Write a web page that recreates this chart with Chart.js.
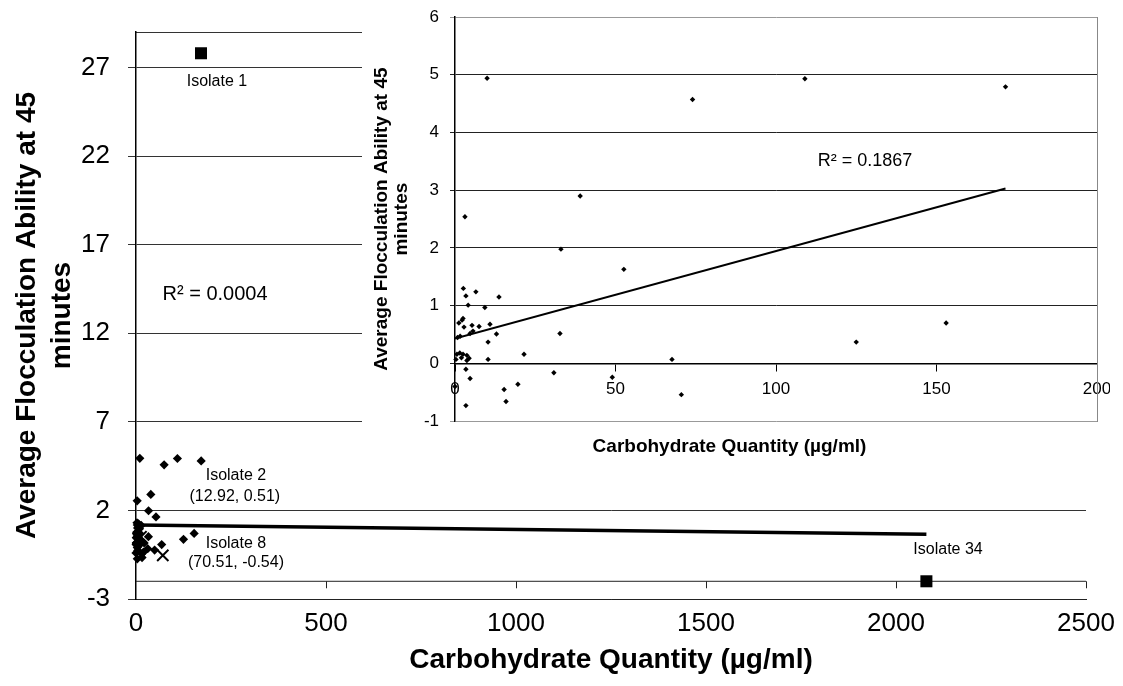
<!DOCTYPE html>
<html>
<head>
<meta charset="utf-8">
<script src="https://cdn.jsdelivr.net/npm/chart.js@4.4.1/dist/chart.umd.min.js"></script>
<style>
  html, body { margin: 0; padding: 0; background: #fff; }
  #wrap { position: relative; width: 1123px; height: 686px; overflow: hidden; }
  #main { position: absolute; left: 0; top: 0; }
  #inset { position: absolute; left: 362px; top: 0; }
</style>
</head>
<body>
<div id="wrap">
  <canvas id="main" width="1123" height="686"></canvas>
  <canvas id="inset" width="748" height="470"></canvas>
</div>
<script>
// isolates under 200 ug/ml
const carb = [10, 74, 109, 171.5, 39, 3.1, 33, 52.6,
  2.6, 3.4, 6.5, 13.7, 4.1, 9.3, 1.2, 2.2, 2.5, 2.8, 5.3, 7.5, 10.9,
  4.7, 5.6, 32.7, 10.3, 1.6, 0.8, 21.5, 0.6, 1.5, 2.5, 3.7, 2.0,
  0.3, 3.7, 4.4, 10.3, 67.6, 3.4, 4.7, 30.8, 49, 0, 15.3, 19.6, 15.9, 3.4,
  125, 153];
const floc = [4.94, 4.57, 4.93, 4.79, 2.9, 2.54, 1.98, 1.63,
  1.30, 1.17, 1.24, 1.15, 1.01, 0.97, 0.70, 0.75, 0.78, 0.63, 0.66, 0.64, 0.68,
  0.52, 0.56, 0.52, 0.37, 0.47, 0.45, 0.16, 0.16, 0.18, 0.16, 0.14, 0.10,
  0.07, 0.05, 0.09, 0.07, 0.07, -0.10, -0.26, -0.16, -0.24, -0.40, -0.45, -0.36, -0.66, -0.73,
  0.37, 0.70];

// isolates 2 and 8 (cross markers)
const markedX = [12.92, 70.51];
const markedY = [0.51, -0.54];

// isolates 1 and 34 (square markers)
const outlierX = [171, 2080];
const outlierY = [27.8, -2.0];

// trend lines
const mainTrendX = [0, 2080];
const mainTrendY = [1.18, 0.65];
const insetTrendX = [0, 171.5];
const insetTrendY = [0.43, 3.03];

const mainXTicks = [0, 500, 1000, 1500, 2000, 2500];
const mainYTicks = [-3, 2, 7, 12, 17, 22, 27];
const insetXTicks = [0, 50, 100, 150, 200];
const insetYTicks = [-1, 0, 1, 2, 3, 4, 5, 6];
const baseLevel = -2;

Chart.defaults.font.family = 'Arial, "Liberation Sans", sans-serif';
Chart.defaults.color = '#000';

const pts = (xs, ys) => xs.map((x, i) => ({ x: x, y: ys[i] }));
const plain = v => String(v);

// text labels placed in data units
const mainNotes = [
  { text: 'Isolate 1', x: 213, y: 26.2, size: 16 },
  { text: 'Isolate 2', x: 263, y: 3.94, size: 16 },
  { text: '(12.92, 0.51)', x: 260, y: 2.76, size: 16 },
  { text: 'Isolate 8', x: 263, y: 0.10, size: 16 },
  { text: '(70.51, -0.54)', x: 263, y: -0.97, size: 16 },
  { text: 'Isolate 34', x: 2137, y: -0.23, size: 16 },
  { text: 'R\u00B2 = 0.0004', x: 208, y: 14.16, size: 20 }
];
const insetNotes = [
  { text: 'R\u00B2 = 0.1867', x: 127.7, y: 3.51, size: 18 }
];

const notesPlugin = {
  id: 'notes',
  afterDatasetsDraw(chart, args, opts) {
    const ctx = chart.ctx;
    const sx = chart.scales.x, sy = chart.scales.y;
    ctx.save();
    ctx.fillStyle = '#000';
    ctx.textAlign = 'center';
    ctx.textBaseline = 'middle';
    opts.items.forEach(n => {
      ctx.font = n.size + 'px Arial, "Liberation Sans", sans-serif';
      ctx.fillText(n.text, sx.getPixelForValue(n.x), sy.getPixelForValue(n.y));
    });
    // little tick marks hanging under the -2 line
    if (opts.baseTicks) {
      const y0 = sy.getPixelForValue(baseLevel);
      ctx.strokeStyle = '#222';
      ctx.lineWidth = 1;
      mainXTicks.slice(1).forEach(v => {
        const px = Math.round(sx.getPixelForValue(v)) + 0.5;
        ctx.beginPath();
        ctx.moveTo(px, y0);
        ctx.lineTo(px, y0 + 7);
        ctx.stroke();
      });
    }
    ctx.restore();
  }
};

const whiteBg = {
  id: 'whiteBg',
  beforeDraw(chart) {
    const ctx = chart.ctx;
    ctx.save();
    ctx.fillStyle = '#fff';
    ctx.fillRect(0, 0, chart.width, chart.height);
    ctx.restore();
  }
};

const noSidePad = s => { s.paddingLeft = 0; s.paddingRight = 0; };
const noEndPad = s => { s.paddingTop = 0; s.paddingBottom = 0; };

new Chart(document.getElementById('main'), {
  type: 'scatter',
  data: {
    datasets: [
      {
        data: pts(carb, floc),
        pointStyle: 'rectRot', pointRadius: 4.6,
        backgroundColor: '#000', borderColor: '#000', borderWidth: 0, clip: false
      },
      {
        data: pts(markedX, markedY),
        pointStyle: 'crossRot', pointRadius: 8,
        borderColor: '#000', borderWidth: 2, clip: false
      },
      {
        data: pts(outlierX, outlierY),
        pointStyle: 'rect', pointRadius: 8.5,
        backgroundColor: '#000', borderColor: '#000', borderWidth: 0, clip: false
      },
      {
        type: 'line', data: pts(mainTrendX, mainTrendY),
        borderColor: '#000', borderWidth: 3.5, pointRadius: 0, showLine: true
      },
      {
        type: 'line', data: pts([mainXTicks[0], mainXTicks[mainXTicks.length - 1]], [baseLevel, baseLevel]),
        borderColor: '#222', borderWidth: 1, pointRadius: 0, showLine: true
      }
    ]
  },
  plugins: [notesPlugin],
  options: {
    responsive: false,
    animation: false,
    events: [],
    layout: { padding: { top: 32, right: 37, left: 0, bottom: 0 } },
    plugins: {
      legend: { display: false },
      tooltip: { enabled: false },
      notes: { items: mainNotes, baseTicks: true }
    },
    scales: {
      x: {
        type: 'linear', position: 'bottom', min: 0, max: 2500,
        afterBuildTicks: s => { s.ticks = mainXTicks.map(v => ({ value: v })); },
        afterFit: s => { s.height = 87; noSidePad(s); },
        grid: { display: false, drawTicks: false },
        border: { display: true, color: '#222', width: 1 },
        ticks: { font: { size: 26 }, color: '#000', padding: 9, maxRotation: 0, callback: plain },
        title: {
          display: true, text: 'Carbohydrate Quantity (\u00B5g/ml)',
          font: { size: 28, weight: 'bold' }, color: '#000', padding: { top: 0, bottom: 9 }
        }
      },
      xTop: {
        type: 'linear', axis: 'x', position: 'top', min: 0, max: 2500,
        afterFit: s => { s.height = 0; noSidePad(s); },
        grid: { display: false, drawTicks: false },
        ticks: { display: false },
        border: { display: true, color: '#333', width: 1 }
      },
      y: {
        type: 'linear', min: -3, max: 29,
        afterBuildTicks: s => { s.ticks = mainYTicks.map(v => ({ value: v })); },
        afterFit: s => { s.width = 136; noEndPad(s); },
        grid: { color: '#333', lineWidth: 1, tickLength: 8 },
        border: { color: '#000', width: 1.5 },
        ticks: { font: { size: 26 }, color: '#000', padding: 18, callback: plain },
        title: {
          display: true, text: ['Average Flocculation Ability at 45', 'minutes'],
          font: { size: 28, weight: 'bold', lineHeight: 1.25 }, color: '#000',
          padding: { top: 10, bottom: 0 }
        }
      }
    }
  }
});

new Chart(document.getElementById('inset'), {
  type: 'scatter',
  data: {
    datasets: [
      {
        data: pts(carb.concat(markedX), floc.concat(markedY)), yAxisID: 'y',
        pointStyle: 'rectRot', pointRadius: 2.7,
        backgroundColor: '#000', borderColor: '#000', borderWidth: 0, clip: false
      },
      {
        type: 'line', data: pts(insetTrendX, insetTrendY), yAxisID: 'y',
        borderColor: '#000', borderWidth: 2, pointRadius: 0, showLine: true
      }
    ]
  },
  plugins: [whiteBg, notesPlugin],
  options: {
    responsive: false,
    animation: false,
    events: [],
    layout: { padding: { top: 17, right: 13, left: 0, bottom: 0 } },
    plugins: {
      legend: { display: false },
      tooltip: { enabled: false },
      notes: { items: insetNotes, baseTicks: false },
      title: {
        display: true, position: 'bottom', text: 'Carbohydrate Quantity (\u00B5g/ml)',
        font: { size: 19, weight: 'bold' }, color: '#000', padding: { top: 14, bottom: 12 }
      }
    },
    scales: {
      x: {
        type: 'linear', position: { y: 0 }, min: 0, max: 200,
        afterBuildTicks: s => { s.ticks = insetXTicks.map(v => ({ value: v })); },
        afterFit: s => { s.height = 0; noSidePad(s); },
        grid: { display: true, drawOnChartArea: false, tickLength: 7, color: '#000' },
        border: { color: '#000', width: 1.5 },
        ticks: { font: { size: 17 }, color: '#000', padding: 9, maxRotation: 0, callback: plain }
      },
      y: {
        type: 'linear', position: 'left', min: -1, max: 6,
        afterBuildTicks: s => { s.ticks = insetYTicks.map(v => ({ value: v })); },
        afterFit: s => { s.width = 93; noEndPad(s); },
        grid: {
          color: c => (c.tick && (c.tick.value === 6 || c.tick.value === -1)) ? '#999' : '#222',
          lineWidth: 1, tickLength: 5
        },
        border: { color: '#000', width: 1.5 },
        ticks: { font: { size: 17 }, color: '#000', padding: 11, callback: plain },
        title: {
          display: true, text: ['Average Flocculation Ability at 45', 'minutes'],
          font: { size: 19, weight: 'bold', lineHeight: 1.05 }, color: '#000',
          padding: { top: 10, bottom: 0 }
        }
      },
      yR: {
        type: 'linear', position: 'right', min: -1, max: 6,
        afterFit: s => { s.width = 0; noEndPad(s); },
        grid: { display: false, drawTicks: false },
        ticks: { display: false },
        border: { display: true, color: '#888', width: 1, dash: [2, 2] }
      }
    }
  }
});
</script>
</body>
</html>
